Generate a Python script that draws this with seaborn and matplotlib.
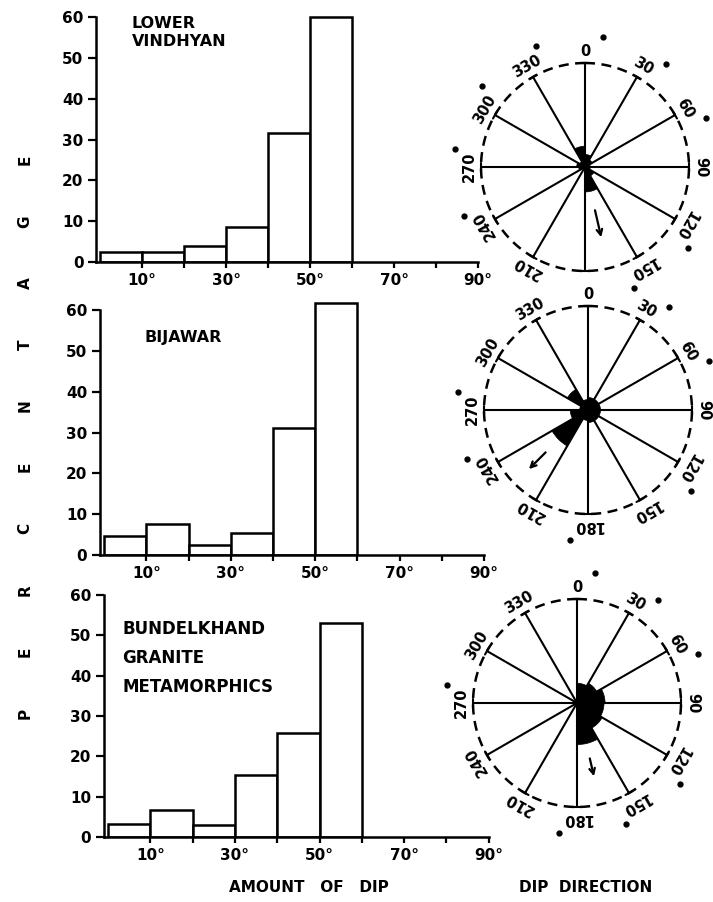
import numpy as np
import pandas as pd
import matplotlib
matplotlib.use("Agg")
import matplotlib.pyplot as plt
import seaborn as sns

sns.set_style("ticks")
plt.rcParams['font.family'] = ['DejaVu Sans']
plt.rcParams['font.weight'] = 'bold'
for key in ['text.color', 'axes.labelcolor', 'xtick.color', 'ytick.color', 'axes.edgecolor']:
    plt.rcParams[key] = 'black'

# ---------------- data ----------------
bin_edges = [0, 10, 20, 30, 40, 50, 60]
bin_centers = [5, 15, 25, 35, 45, 55]
lower_vindhyan_pct = [2.5, 2.5, 4.0, 8.5, 31.5, 60.0]
bijawar_pct = [4.7, 7.7, 2.5, 5.5, 31.0, 61.7]
bundelkhand_pct = [3.3, 6.8, 3.0, 15.3, 25.7, 53.0]
panel_titles = ["LOWER\nVINDHYAN", "BIJAWAR", "BUNDELKHAND\nGRANITE\nMETAMORPHICS"]
y_ticks = [0, 10, 20, 30, 40, 50, 60]
x_tick_positions = [10, 20, 30, 40, 50, 60, 70, 80, 90]
x_tick_labels = ["10°", "", "30°", "", "50°", "", "70°", "", "90°"]

rose_sector_start = [0, 30, 60, 90, 120, 150, 180, 210, 240, 270, 300, 330]
lower_vindhyan_rose = [6.0, 4.0, 2.5, 2.5, 5.0, 12.0, 1.5, 1.5, 3.0, 4.0, 3.0, 10.0]
bijawar_rose = [6.0, 6.0, 6.0, 6.0, 6.0, 6.0, 5.0, 20.0, 8.5, 4.0, 11.5, 5.0]
bundelkhand_rose = [9.5, 11.0, 13.5, 13.0, 14.0, 20.0, 0.0, 0.0, 0.0, 0.0, 0.0, 0.0]
rose_outer_pct = 50.0
rose_label_angles = [0, 30, 60, 90, 120, 150, 180, 210, 240, 270, 300, 330]
rose_label_text = ["0", "30", "60", "90", "120", "150", "180", "210", "240", "270", "300", "330"]
rose_label_show = [
    [1, 1, 1, 1, 1, 1, 0, 1, 1, 1, 1, 1],
    [1, 1, 1, 1, 1, 1, 1, 1, 1, 1, 1, 1],
    [1, 1, 1, 1, 1, 1, 1, 1, 1, 1, 1, 1],
]
rose_degree_dot = [
    [1, 1, 1, 0, 1, 1, 0, 0, 1, 1, 1, 1],
    [0, 1, 1, 0, 1, 0, 1, 0, 1, 1, 0, 0],
    [1, 1, 1, 0, 1, 1, 1, 0, 0, 1, 0, 0],
]
mean_dip_direction = [167, 225, 167]
ylabel_letters = list("PERCENTAGE")

hist_data = [lower_vindhyan_pct, bijawar_pct, bundelkhand_pct]
rose_data = [lower_vindhyan_rose, bijawar_rose, bundelkhand_rose]

# ---------------- layout ----------------
W, H = 713, 902
fig = plt.figure(figsize=(W / 100, H / 100), dpi=100)

hist_rects = [
    [0.1346, 0.7095, 0.536, 0.2852],
    [0.1400, 0.3847, 0.539, 0.2852],
    [0.1455, 0.0721, 0.540, 0.2815],
]
rose_centers = [(585, 167, 104), (588, 410, 104), (577, 703, 104)]
arrow_span = [(0.40, 0.72), (0.55, 0.83), (0.52, 0.75)]
title_pos = [(0.094, 0.955, 1.25), (0.117, 0.875, 1.2), (0.049, 0.855, 1.8)]
title_size = [11.5, 11.5, 12]

for i in range(3):
    ax = fig.add_axes(hist_rects[i])
    df = pd.DataFrame({"dip": bin_centers, "pct": hist_data[i]})
    sns.histplot(data=df, x="dip", weights="pct", bins=bin_edges, ax=ax,
                 color="white", edgecolor="black", linewidth=1.8, alpha=1)
    ax.set_xlim(-1, 90)
    ax.set_ylim(0, 63)
    ax.set_xlabel("")
    ax.set_ylabel("")
    ax.set_yticks(y_ticks)
    ax.set_yticklabels([str(v) for v in y_ticks])
    ax.set_xticks(x_tick_positions)
    ax.set_xticklabels(x_tick_labels)
    for s in ["top", "right"]:
        ax.spines[s].set_visible(False)
    ax.spines["left"].set_bounds(0, 60)
    for s in ["left", "bottom"]:
        ax.spines[s].set_linewidth(1.8)
    ax.tick_params(axis="y", length=6, width=1.6, labelsize=11, pad=3)
    ax.tick_params(axis="x", length=4, width=1.6, labelsize=11, pad=4)
    tx, ty, ls = title_pos[i]
    ax.text(tx, ty, panel_titles[i], transform=ax.transAxes, ha="left", va="top",
            fontsize=title_size[i], fontweight="bold", linespacing=ls)

    # rose diagram
    cx, cy, R = rose_centers[i]
    pax = fig.add_axes([(cx - R) / W, 1 - (cy + R) / H, 2 * R / W, 2 * R / H],
                       projection="polar")
    pax.set_theta_zero_location("N")
    pax.set_theta_direction(-1)
    pax.set_ylim(0, 1)
    pax.axis("off")
    th = np.linspace(0, 2 * np.pi, 400)
    pax.plot(th, np.ones_like(th), color="black", lw=1.8, ls=(0, (4, 2.6)),
             clip_on=False)
    radii = np.array(rose_data[i]) / rose_outer_pct
    pax.bar(np.deg2rad(rose_sector_start), radii, width=np.deg2rad(30),
            align="edge", color="black", edgecolor="black", linewidth=0.5)
    for a in rose_label_angles:
        t = np.deg2rad(a)
        pax.plot([t, t], [0, 1], color="black", lw=1.5, clip_on=False)
        pax.plot(np.deg2rad([a - 2.2, a + 2.2]), [1, 1], color="black", lw=1.5,
                 clip_on=False)
    for k, a in enumerate(rose_label_angles):
        if rose_label_show[i][k]:
            pax.text(np.deg2rad(a), 1.115, rose_label_text[k], rotation=-a,
                     rotation_mode="anchor", ha="center", va="center",
                     fontsize=10.5, fontweight="bold", clip_on=False)
        if rose_degree_dot[i][k]:
            pax.plot(np.deg2rad(a + 8), 1.26, "o", color="black", ms=3.5,
                     clip_on=False)
    md = np.deg2rad(mean_dip_direction[i])
    r0, r1 = arrow_span[i]
    pax.annotate("", xy=(md, r1), xytext=(md, r0),
                 arrowprops=dict(arrowstyle="->", color="black", lw=1.6,
                                 mutation_scale=10))

# vertical spaced label
ys = np.linspace(713, 160, len(ylabel_letters))
for ch, y in zip(ylabel_letters, ys):
    fig.text(25 / W, 1 - y / H, ch, rotation=90, ha="center", va="center",
             fontsize=11, fontweight="bold")

fig.text(309 / W, 1 - 888 / H, "AMOUNT   OF   DIP", ha="center", va="center",
         fontsize=11, fontweight="bold")
fig.text(586 / W, 1 - 888 / H, "DIP  DIRECTION", ha="center", va="center",
         fontsize=11, fontweight="bold")

fig.savefig("out.png", dpi=100, facecolor="white")
